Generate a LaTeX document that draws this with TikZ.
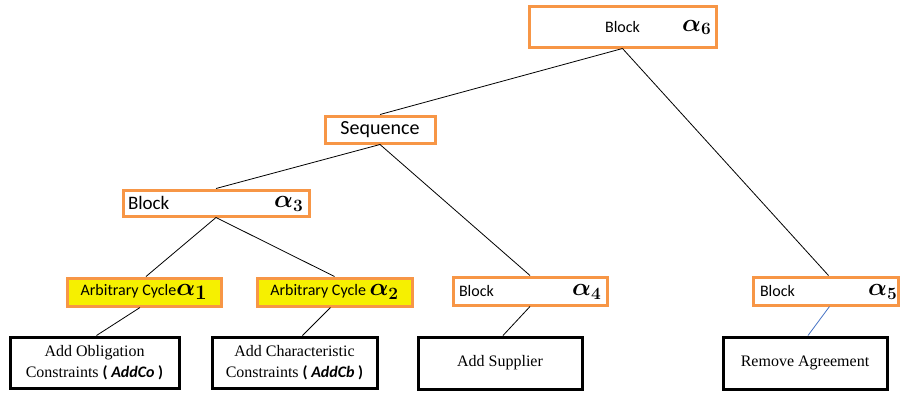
\documentclass[tikz,border=0pt]{standalone}
\usepackage{fontspec}
\usepackage{bm}
\setmainfont{Liberation Serif}
\newfontfamily\calibri{Carlito}
\definecolor{boxorange}{RGB}{247,150,70}
\definecolor{cycyellow}{RGB}{246,240,0}
\definecolor{linkblue}{RGB}{68,114,196}
\tikzset{
    obox/.style={draw=boxorange, line width=3pt, fill=white, inner sep=0pt,
        font=\calibri\fontsize{16}{18}\selectfont},
    cycbox/.style={obox, fill=cycyellow},
    leaf/.style={draw=black, line width=3pt, inner sep=0pt, align=center,
        font=\fontsize{16}{21}\selectfont},
    alph/.style={anchor=east, inner sep=0pt, font=\fontsize{26}{26}\selectfont},
    edge/.style={black, line width=0.8pt}
}
\newcommand{\alphsub}[1]{$\bm{\alpha}_{\bm{#1}}$}
\begin{document}
\begin{tikzpicture}[x=1pt, y=-1pt]
    \useasboundingbox (0,0) rectangle (900,392);

    % Top block
    \node[obox, minimum width=187, minimum height=41,
        label={[alph, xshift=-6pt, yshift=-1pt]east:\alphsub{6}}] (blk6) at (622.5,26.5) {Block};

    % Sequence
    \node[obox, minimum width=110, minimum height=27,
        font=\calibri\fontsize{20}{22}\selectfont] (seq) at (380,129.5) {Sequence};

    % Inner block
    \node[obox, minimum width=186, minimum height=26, text width=176, align=left,
        font=\calibri\fontsize{19}{21}\selectfont,
        label={[alph, xshift=-7pt, yshift=-1pt]east:\alphsub{3}}] (blk3) at (216,203) {Block};

    % Cycles
    \node[cycbox, minimum width=154, minimum height=28] (cyc1) at (144,292)
        {Arbitrary Cycle{\fontsize{28}{28}\selectfont\alphsub{1}}};
    \node[cycbox, minimum width=155, minimum height=28] (cyc2) at (334.5,292)
        {Arbitrary Cycle {\fontsize{27}{28}\selectfont\alphsub{2}}};

    % Blocks on the third level
    \node[obox, minimum width=154, minimum height=28, text width=142, align=left,
        label={[alph, xshift=-7pt, yshift=-1pt]east:\alphsub{4}}] (blk4) at (530,291) {Block};
    \node[obox, minimum width=145, minimum height=28, text width=131, align=left,
        label={[alph, xshift=-2pt, yshift=-1pt]east:\alphsub{5}}] (blk5) at (825.5,291) {Block};

    % Leaves
    \node[leaf, minimum width=169, minimum height=51] (addco) at (94.5,362.5)
        {Add Obligation\\Constraints {\calibri\bfseries( \textit{AddCo} )}};
    \node[leaf, minimum width=165, minimum height=51] (addcb) at (294.5,362.5)
        {Add Characteristic\\Constraints {\calibri\bfseries( \textit{AddCb} )}};
    \node[leaf, minimum width=164, minimum height=52] (addsup) at (500,363) {Add Supplier};
    \node[leaf, minimum width=164, minimum height=52] (remagr) at (805,363) {Remove Agreement};

    % Connectors
    \draw[edge] (blk6.south) -- (seq.north);
    \draw[edge] (blk6.south) -- ([xshift=3pt]blk5.north);
    \draw[edge] (seq.south) -- (blk3.north);
    \draw[edge] (seq.south) -- (blk4.north);
    \draw[edge] (blk3.south) -- ([xshift=2pt]cyc1.north);
    \draw[edge] (blk3.south) -- (cyc2.north);
    \draw[edge] ([xshift=-4pt]cyc1.south) -- ([xshift=2pt]addco.north);
    \draw[edge] ([xshift=-4pt]cyc2.south) -- ([xshift=8pt]addcb.north);
    \draw[edge] (blk4.south) -- ([xshift=3pt]addsup.north);
    \draw[linkblue, line width=0.8pt] ([xshift=4pt]blk5.south) -- ([xshift=3pt]remagr.north);
\end{tikzpicture}
\end{document}
